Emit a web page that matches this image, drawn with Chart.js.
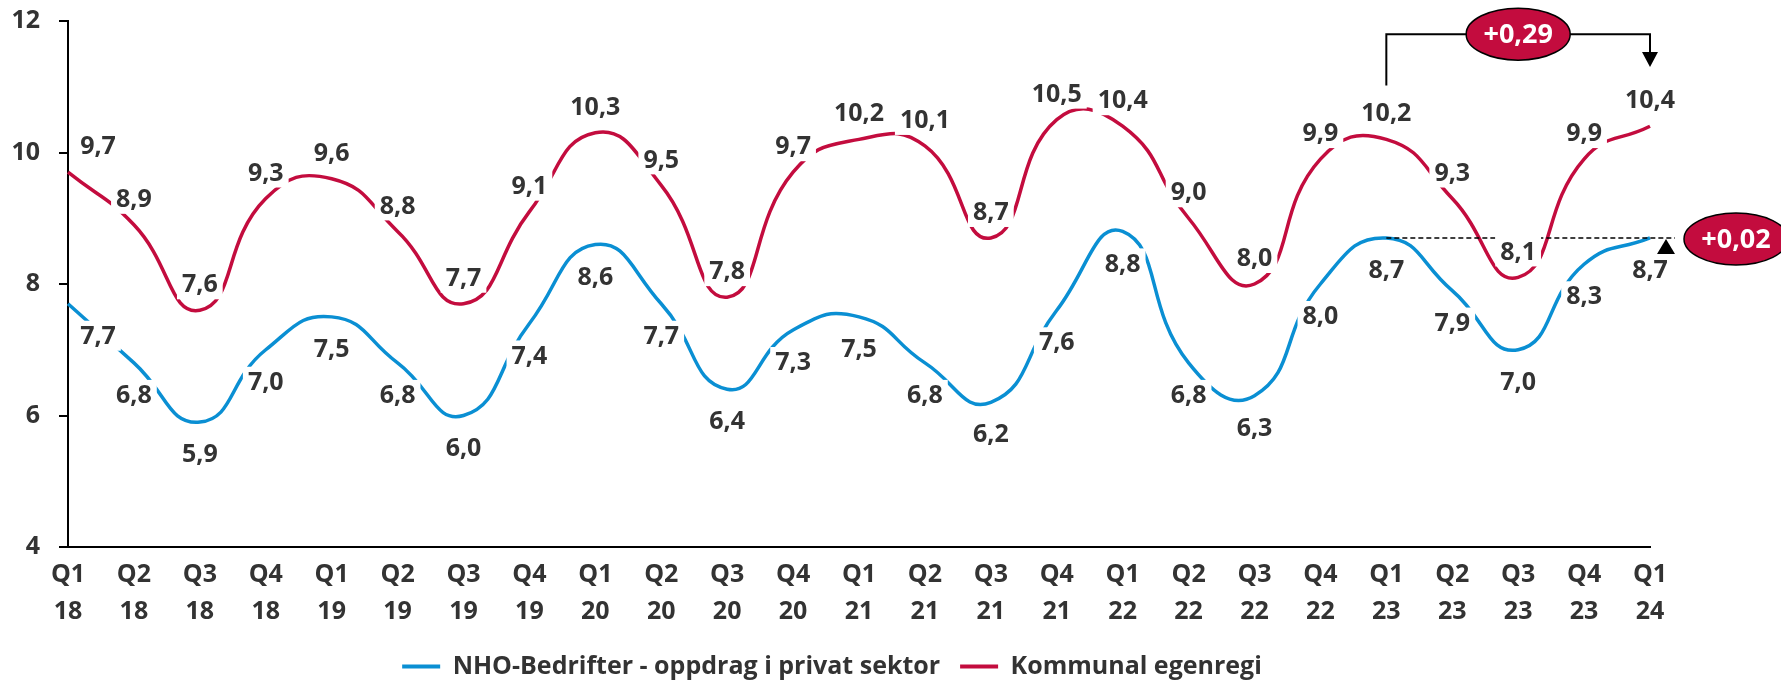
<!DOCTYPE html>
<html>
<head>
<meta charset="utf-8">
<script src="https://cdn.jsdelivr.net/npm/chart.js@4.4.1/dist/chart.umd.min.js"></script>
<style>
  html, body { margin: 0; padding: 0; background: #fff; }
  #wrap { width: 1781px; height: 680px; }
</style>
</head>
<body>
<div id="wrap"><canvas id="mychart"></canvas></div>
<script>
// -------- data --------------------
const quarters = ['Q1', 'Q2', 'Q3', 'Q4', 'Q1', 'Q2', 'Q3', 'Q4', 'Q1', 'Q2', 'Q3', 'Q4', 'Q1',
                  'Q2', 'Q3', 'Q4', 'Q1', 'Q2', 'Q3', 'Q4', 'Q1', 'Q2', 'Q3', 'Q4', 'Q1'];
const years = ['18', '18', '18', '18', '19', '19', '19', '19', '20', '20', '20', '20', '21',
               '21', '21', '21', '22', '22', '22', '22', '23', '23', '23', '23', '24'];
const nhoValues = [7.7, 6.8, 5.9, 7.0, 7.5, 6.8, 6.0, 7.4, 8.6, 7.7, 6.4, 7.3, 7.5,
                   6.8, 6.2, 7.6, 8.8, 6.8, 6.3, 8.0, 8.7, 7.9, 7.0, 8.3, 8.7];
const kommunalValues = [9.7, 8.9, 7.6, 9.3, 9.6, 8.8, 7.7, 9.1, 10.3, 9.5, 7.8, 9.7, 10.2,
                        10.1, 8.7, 10.5, 10.4, 9.0, 8.0, 9.9, 10.2, 9.3, 8.1, 9.9, 10.4];
const seriesNames = ['NHO-Bedrifter - oppdrag i privat sektor', 'Kommunal egenregi'];
// change Q1 23 -> Q1 24
const compareFrom = 20;
const compareTo = 24;
const kommunalChange = '+0,29';
const nhoChange = '+0,02';

const BLUE = '#0A8FD3';
const RED = '#C30C3E';
const TEXT = '#333333';
const FONT = '"Open Sans", "Noto Sans", sans-serif';

const fmt = v => v.toFixed(1).replace('.', ',');

// labels with white boxes + the change markers
const labelPlugin = {
  id: 'labelPlugin',
  afterDatasetsDraw(chart) {
    const ctx = chart.ctx;
    const xs = chart.scales.x, ys = chart.scales.y;
    ctx.save();

    // dashed reference line for NHO
    const yRef = ys.getPixelForValue(nhoValues[compareFrom]);
    const xA = xs.getPixelForValue(compareFrom);
    const xB = xs.getPixelForValue(compareTo);
    ctx.strokeStyle = '#000';
    ctx.lineWidth = 1.5;
    ctx.setLineDash([5, 3]);
    ctx.beginPath();
    ctx.moveTo(xA, yRef);
    ctx.lineTo(xB + 25, yRef);
    ctx.stroke();
    ctx.setLineDash([]);

    // value labels
    ctx.font = 'bold 25px ' + FONT;
    ctx.textAlign = 'center';
    ctx.textBaseline = 'middle';
    chart.data.datasets.forEach((ds, di) => {
      const meta = chart.getDatasetMeta(di);
      meta.data.forEach((pt, i) => {
        const txt = fmt(ds.data[i]);
        const x = pt.x + (i === 0 ? 30 : 0);
        const y = pt.y + ds.labelOffset;
        const w = ctx.measureText(txt).width;
        ctx.fillStyle = '#fff';
        ctx.fillRect(x - w / 2 - 5, y - 15, w + 10, 30);
        ctx.fillStyle = TEXT;
        ctx.fillText(txt, x, y + 1);
      });
    });

    // bracket for Kommunal egenregi
    const yTop = ys.getPixelForValue(11.8);
    const yLeg = ys.getPixelForValue(11.02);
    const yTip = ys.getPixelForValue(11.3);
    ctx.strokeStyle = '#000';
    ctx.lineWidth = 2;
    ctx.beginPath();
    ctx.moveTo(xA, yLeg);
    ctx.lineTo(xA, yTop);
    ctx.lineTo(xB, yTop);
    ctx.lineTo(xB, yTip - 14);
    ctx.stroke();
    ctx.fillStyle = '#000';
    ctx.beginPath();
    ctx.moveTo(xB - 8, yTip - 15);
    ctx.lineTo(xB + 8, yTip - 15);
    ctx.lineTo(xB, yTip);
    ctx.closePath();
    ctx.fill();

    // up arrow for NHO
    const xUp = xB + 16;
    ctx.beginPath();
    ctx.moveTo(xUp - 9, yRef + 16);
    ctx.lineTo(xUp + 9, yRef + 16);
    ctx.lineTo(xUp, yRef + 1);
    ctx.closePath();
    ctx.fill();

    // badges
    const badge = (cx, cy, txt) => {
      ctx.beginPath();
      ctx.ellipse(cx, cy, 52, 26, 0, 0, Math.PI * 2);
      ctx.fillStyle = RED;
      ctx.fill();
      ctx.lineWidth = 1.5;
      ctx.strokeStyle = '#000';
      ctx.stroke();
      ctx.fillStyle = '#fff';
      ctx.font = 'bold 27px ' + FONT;
      ctx.fillText(txt, cx, cy + 1);
    };
    badge((xA + xB) / 2, yTop, kommunalChange);
    badge(xB + 86, yRef + 1, nhoChange);

    ctx.restore();
  }
};

// move legend to where it sits in the original
const legendShift = {
  id: 'legendShift',
  afterLayout(chart) {
    const lg = chart.legend;
    lg.top += 9; lg.bottom += 9;
    lg.left += 7; lg.right += 7;
  }
};

const data = {
  labels: quarters.map((q, i) => [q, years[i]]),
  datasets: [
    {
      label: seriesNames[0],
      data: nhoValues,
      borderColor: BLUE,
      backgroundColor: BLUE,
      labelOffset: 32
    },
    {
      label: seriesNames[1],
      data: kommunalValues,
      borderColor: RED,
      backgroundColor: RED,
      labelOffset: -26
    }
  ]
};

const config = {
  type: 'line',
  data: data,
  options: {
    responsive: true,
    maintainAspectRatio: false,
    animation: false,
    layout: { padding: { top: 21, right: 131, bottom: 0, left: 0 } },
    elements: {
      line: { borderWidth: 3.5, tension: 0.5 },
      point: { radius: 0 }
    },
    scales: {
      x: {
        ticks: {
          color: TEXT,
          font: { family: FONT, size: 25, weight: 'bold', lineHeight: 1.5 },
          padding: 9,
          maxRotation: 0,
          autoSkip: false
        },
        grid: { display: false, drawTicks: false },
        border: { display: true, color: '#000', width: 2 },
        afterFit(scale) { scale.height = 78; }
      },
      y: {
        min: 4,
        max: 12,
        ticks: {
          stepSize: 2,
          color: TEXT,
          padding: 19,
          font: { family: FONT, size: 25, weight: 'bold' }
        },
        grid: { drawOnChartArea: false, drawTicks: true, tickLength: 9, color: '#000', lineWidth: 2 },
        border: { display: true, color: '#000', width: 2 },
        afterFit(scale) {
          scale.width = 68;
          scale.paddingTop = 0;
          scale.paddingBottom = 0;
        }
      }
    },
    plugins: {
      legend: {
        position: 'bottom',
        labels: {
          boxWidth: 38,
          boxHeight: 4,
          padding: 20,
          color: TEXT,
          font: { family: FONT, size: 25, weight: 'bold' },
          generateLabels(chart) {
            const items = Chart.defaults.plugins.legend.labels.generateLabels(chart);
            items.forEach(it => { it.lineWidth = 0; it.fillStyle = it.strokeStyle; });
            return items;
          }
        }
      },
      tooltip: { enabled: false }
    }
  },
  plugins: [labelPlugin, legendShift]
};

//build chart
const mychart = document.getElementById('mychart');
const chart = new Chart(mychart, config);
</script>
</body>
</html>
